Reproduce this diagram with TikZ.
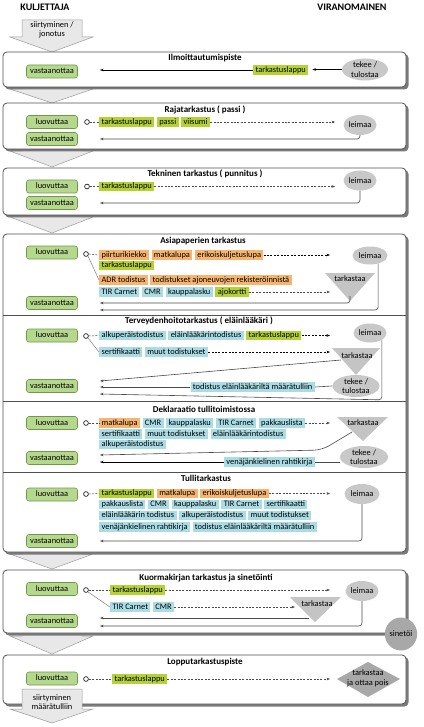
\documentclass[tikz,border=0pt]{standalone}
\usepackage{fontspec}
\setmainfont{Carlito}
\usetikzlibrary{shapes.geometric,arrows.meta,positioning}
\definecolor{hlgreen}{HTML}{B4D236}
\definecolor{hlorange}{HTML}{F6B46E}
\definecolor{hlblue}{HTML}{A9DCE5}
\definecolor{gfill}{HTML}{B6D88E}
\definecolor{gdraw}{HTML}{6E9A48}
\definecolor{ovalc}{HTML}{C8C8C8}
\definecolor{darkov}{HTML}{A8A8A8}
\definecolor{tric}{HTML}{C4C4C4}
\definecolor{panelc}{HTML}{505050}
\definecolor{shadowc}{HTML}{7A7A7A}
\definecolor{chevf}{HTML}{E8E8E8}
\definecolor{chevd}{HTML}{9C9C9C}
\definecolor{lineg}{HTML}{4A4A4A}
\tikzset{
 base/.style={font=\fontsize{8.4}{9.6}\selectfont},
 hl/.style={base, inner xsep=2.4pt, inner ysep=1pt, text height=5.9pt, text depth=1.7pt, anchor=west},
 hg/.style={hl, fill=hlgreen},
 ho/.style={hl, fill=hlorange},
 hb/.style={hl, fill=hlblue},
 gbox/.style={base, draw=gdraw, fill=gfill, rounded corners=2.5pt, minimum width=51pt, minimum height=13pt, inner sep=1pt, line width=0.6pt, text height=5.9pt, text depth=1.7pt},
 oval/.style={base, ellipse, fill=ovalc, inner sep=0pt, align=center},
 ring/.style={circle, draw=black, fill=white, minimum size=4.8pt, inner sep=0pt, line width=0.6pt},
 dsh/.style={draw=lineg, dash pattern=on 2pt off 1.4pt, line width=0.5pt},
 dar/.style={dsh, -{Stealth[length=3.5pt,width=2.6pt]}},
 ret/.style={draw=lineg, line width=0.6pt, -{Stealth[length=3.5pt,width=2.6pt]}, rounded corners=3pt},
 plain/.style={draw=lineg, line width=0.6pt},
 diag/.style={draw=gray, line width=0.5pt},
 ttl/.style={font=\bfseries\fontsize{9}{10}\selectfont},
 hdr/.style={font=\bfseries\fontsize{10}{11}\selectfont},
 panel/.style={draw=panelc, fill=white, line width=0.8pt, rounded corners=4pt},
 pshadow/.style={fill=shadowc, rounded corners=4pt},
 chev/.style={fill=chevf, draw=chevd, line width=0.5pt},
 tri/.style={fill=tric},
 chevtxt/.style={base, align=center},
}
\begin{document}
\begin{tikzpicture}[x=1pt,y=-1pt]
\useasboundingbox (0,0) rectangle (423,727);
\fill[white] (0,0) rectangle (423,727);
\coordinate (tipA) at (335,0);
\coordinate (tipB) at (330,0);

% headers
\node[hdr] (kh) at (45,7) {KULJETTAJA};
\node[hdr] (vh) at (352,7) {VIRANOMAINEN};

% chevrons (behind panels)
\filldraw[chev] (22,20)--(82,20)--(82,37)--(93,37)--(52,52)--(10,37)--(22,37)--cycle;
\node[chevtxt] (ch0) at (52,30) {siirtyminen /\\jonotus};
\filldraw[chev] (22,82)--(82,82)--(82,89)--(93,89)--(52,103)--(10,89)--(22,89)--cycle;
\filldraw[chev] (22,144)--(82,144)--(82,151)--(93,151)--(52,167)--(10,151)--(22,151)--cycle;
\filldraw[chev] (22,210)--(82,210)--(82,217)--(93,217)--(52,233)--(10,217)--(22,217)--cycle;
\filldraw[chev] (22,547)--(82,547)--(82,554)--(93,554)--(52,569)--(10,554)--(22,554)--cycle;
\filldraw[chev] (22,628)--(82,628)--(82,636)--(93,636)--(52,654)--(10,636)--(22,636)--cycle;

% panels
\fill[pshadow] (5,54) rectangle (408.5,89.5);
\filldraw[panel] (3,52) rectangle (406,87);
\fill[pshadow] (5,105) rectangle (408.5,151.5);
\filldraw[panel] (3,103) rectangle (406,149);
\fill[pshadow] (5,170) rectangle (408.5,217.5);
\filldraw[panel] (3,168) rectangle (406,215);
\fill[pshadow] (5,236) rectangle (408.5,554.5);
\filldraw[panel] (3,234) rectangle (406,552);
\draw[draw=panelc, line width=0.8pt] (3,315) -- (406,315);
\draw[draw=panelc, line width=0.8pt] (3,401) -- (406,401);
\draw[draw=panelc, line width=0.8pt] (3,472) -- (406,472);
\fill[pshadow] (5,572) rectangle (408.5,635.5);
\filldraw[panel] (3,570) rectangle (406,633);
\fill[pshadow] (5,657) rectangle (408.5,706.5);
\filldraw[panel] (3,655) rectangle (406,704);

% ---------- Panel 1
\node[ttl] (p1) at (205,58) {Ilmoittautumispiste};
\node[gbox] (v1) at (52,71.5) {vastaanottaa};
\node[hg] (t1) at (253,70) {tarkastuslappu};
\node[oval, minimum width=46pt, minimum height=21pt] (e1) at (365,69.5) {tekee /\\tulostaa};
\coordinate (r1) at (100,70);
\draw[ret, line width=0.8pt, draw=black, shorten >=4pt] (e1.west) -- (e1.west -| t1.east);
\draw[ret, line width=0.8pt, draw=black] (t1.west) -- (r1);

% ---------- Panel 2
\node[ttl] (p2) at (205,110) {Rajatarkastus ( passi )};
\node[gbox] (l2) at (52,122) {luovuttaa};
\node[gbox] (v2) at (52,139) {vastaanottaa};
\node[oval, minimum width=33pt, minimum height=20pt] (e2) at (360,125) {leimaa};
\node[ring] (c2) at (87,122) {};
\node[hg] (a2) at (99,122) {tarkastuslappu};
\node[hg, right=2.2pt of a2] (b2) {passi};
\node[hg, right=2.2pt of b2] (d2) {viisumi};
\draw[dsh] (c2.east) -- (a2.west);
\draw[dar] (d2.east) -- (d2.east -| tipA);
\coordinate (r2) at (100,139);
\draw[ret] (e2.south) |- (r2);

% ---------- Panel 3
\node[ttl] (p3) at (205,174) {Tekninen tarkastus ( punnitus )};
\node[gbox] (l3) at (52,186.5) {luovuttaa};
\node[gbox] (v3) at (52,203) {vastaanottaa};
\node[oval, minimum width=33pt, minimum height=20pt] (e3) at (360,180.5) {leimaa};
\node[ring] (c3) at (87,186.5) {};
\node[hg] (a3) at (99,186.5) {tarkastuslappu};
\draw[dsh] (c3.east) -- (a3.west);
\draw[dar] (a3.east) -- (a3.east -| tipA);
\coordinate (r3) at (100,203);
\draw[ret] (e3.south) |- (r3);

% ---------- Panel 4
\node[ttl] (p4) at (203,241) {Asiapaperien tarkastus};
\node[gbox] (l4) at (52,252.5) {luovuttaa};
\node[gbox] (v4) at (52,303) {vastaanottaa};
\node[ring] (c4) at (86,254) {};
\node[ho] (a4) at (99,255) {piirturikiekko};
\node[ho, right=2.2pt of a4] (b4) {matkalupa};
\node[ho, right=2.2pt of b4] (d4) {erikoiskuljetuslupa};
\node[hg] (f4) at (99,265.5) {tarkastuslappu};
\node[ho] (g4) at (99,280) {ADR todistus};
\node[ho, right=2.2pt of g4] (h4) {todistukset ajoneuvojen rekisteröinnistä};
\node[hb] (i4) at (99,292) {TIR Carnet};
\node[hb, right=2.2pt of i4] (j4) {CMR};
\node[hb, right=2.2pt of j4] (k4) {kauppalasku};
\node[hg, right=2.2pt of k4] (m4) {ajokortti};
\node[oval, minimum width=35pt, minimum height=18pt] (e4) at (370,255.5) {leimaa};
\fill[tri] (325,273)--(375,273)--(350,301)--cycle;
\node[base] (tk4) at (350,279) {tarkastaa};
\draw[dsh] (c4.east) -- (a4.west);
\draw[diag] (c4.south east) -- (g4.west);
\draw[dar, line width=0.6pt, draw=black] (d4.east) -- (d4.east -| tipB);
\draw[dar] (m4.east) -- (m4.east -| tipB);
\coordinate (s4) at (350,296);
\coordinate (r4a) at (100,303);
\coordinate (r4b) at (100,310);
\draw[ret] (s4) |- (r4a);
\draw[ret] (e4.-45) |- (r4b);

% ---------- Panel 5
\node[ttl] (p5) at (199,321) {Terveydenhoitotarkastus ( eläinlääkäri )};
\node[gbox] (l5) at (52,335.5) {luovuttaa};
\node[gbox] (v5) at (52,386) {vastaanottaa};
\node[ring] (c5) at (86,336) {};
\node[hb] (a5) at (99,335.5) {alkuperäistodistus};
\node[hb, right=2.2pt of a5] (b5) {eläinlääkärintodistus};
\node[hg, right=2.2pt of b5] (d5) {tarkastuslappu};
\node[hb] (f5) at (99,352) {sertifikaatti};
\node[hb, right=2.2pt of f5] (g5) {muut todistukset};
\node[oval, minimum width=33pt, minimum height=19pt] (e5) at (370,333) {leimaa};
\fill[tri] (332,348)--(380,348)--(356,375)--cycle;
\node[base] (tk5) at (357,356) {tarkastaa};
\node[oval, minimum width=47pt, minimum height=22pt] (f5e) at (356,386) {tekee /\\tulostaa};
\draw[dsh] (c5.east) -- (a5.west);
\draw[diag] (c5.south east) -- (f5.west);
\draw[dar, line width=0.6pt, draw=black] (d5.east) -- (d5.east -| tipB);
\draw[dar, line width=0.6pt, draw=black] (g5.east) -- (g5.east -| tipB);
\coordinate (s5) at (341,360);
\coordinate (r5a) at (100,381);
\draw[ret] (s5) -- (r5a);
\node[hb, anchor=east] (lab5) at (315,387) {todistus eläinlääkäriltä määrätulliin};
\coordinate (r5b) at (100,387);
\draw[plain] (f5e.west) -- (lab5.east);
\draw[ret] (lab5.west) -- (r5b);
\coordinate (r5c) at (100,394);
\draw[ret] (e5.-30) -- ++(0,60) -- (r5c);

% ---------- Panel 6
\node[ttl] (p6) at (204,409) {Deklaraatio tullitoimistossa};
\node[gbox] (l6) at (52,423) {luovuttaa};
\node[gbox] (v6) at (52,458) {vastaanottaa};
\node[ring] (c6) at (86,423) {};
\node[ho] (a6) at (99,423) {matkalupa};
\node[hb, right=2.2pt of a6] (b6) {CMR};
\node[hb, right=2.2pt of b6] (d6) {kauppalasku};
\node[hb, right=2.2pt of d6] (f6) {TIR Carnet};
\node[hb, right=2.2pt of f6] (g6) {pakkauslista};
\node[hb] (h6) at (99,434) {sertifikaatti};
\node[hb, right=2.2pt of h6] (i6) {muut todistukset};
\node[hb, right=2.2pt of i6] (j6) {eläinlääkärintodistus};
\node[hb] (k6) at (99,444.5) {alkuperäistodistus};
\fill[tri] (337,417)--(388,417)--(363,441)--cycle;
\node[base] (tk6) at (363,423) {tarkastaa};
\node[oval, minimum width=48pt, minimum height=22pt] (e6) at (364,457) {tekee /\\tulostaa};
\draw[dsh] (c6.east) -- (a6.west);
\draw[dar] (g6.east) -- (g6.east -| tipB);
\coordinate (s6) at (352,432);
\coordinate (m6) at (322,450);
\coordinate (r6a) at (100,455);
\draw[ret, rounded corners=8pt] (s6) -- (m6) -- (r6a);
\node[hb, anchor=east] (lab6) at (315,462) {venäjänkielinen rahtikirja};
\coordinate (r6b) at (100,462);
\draw[plain, line width=0.8pt] (e6.west |- lab6.east) -- (lab6.east);
\draw[ret, line width=0.8pt, draw=black] (lab6.west) -- (r6b);

% ---------- Panel 7
\node[ttl] (p7) at (206,478) {Tullitarkastus};
\node[gbox] (l7) at (52,494.5) {luovuttaa};
\node[gbox] (v7) at (52,541) {vastaanottaa};
\node[ring] (c7) at (86,494) {};
\node[hg] (a7) at (99,493.5) {tarkastuslappu};
\node[ho, right=2.2pt of a7] (b7) {matkalupa};
\node[ho, right=2.2pt of b7] (d7) {erikoiskuljetuslupa};
\node[hb] (f7) at (99,504.5) {pakkauslista};
\node[hb, right=2.2pt of f7] (g7) {CMR};
\node[hb, right=2.2pt of g7] (h7) {kauppalasku};
\node[hb, right=2.2pt of h7] (i7) {TIR Carnet};
\node[hb, right=2.2pt of i7] (j7) {sertifikaatti};
\node[hb] (k7) at (99,515.5) {eläinlääkärin todistus};
\node[hb, right=2.2pt of k7] (m7) {alkuperäistodistus};
\node[hb, right=2.2pt of m7] (n7) {muut todistukset};
\node[hb] (o7) at (99,527) {venäjänkielinen rahtikirja};
\node[hb, right=2.2pt of o7] (q7) {todistus eläinlääkäriltä määrätulliin};
\node[oval, minimum width=35pt, minimum height=20pt] (e7) at (362,494) {leimaa};
\draw[dsh] (c7.east) -- (a7.west);
\draw[dar] (d7.east) -- (d7.east -| tipB);
\coordinate (r7) at (100,541);
\draw[ret] (e7.south) |- (r7);

% ---------- Panel 8
\node[ttl] (p8) at (206,578) {Kuormakirjan tarkastus ja sinetöinti};
\node[gbox] (l8) at (52,589) {luovuttaa};
\node[gbox] (v8) at (52,621) {vastaanottaa};
\node[ring] (c8) at (86,590) {};
\node[hg] (a8) at (110,590) {tarkastuslappu};
\node[hb] (b8) at (110,607) {TIR Carnet};
\node[hb, right=2.2pt of b8] (d8) {CMR};
\fill[tri] (290,597)--(341,597)--(315,622)--cycle;
\node[base] (tk8) at (317,604) {tarkastaa};
\node[oval, minimum width=33pt, minimum height=20pt] (e8) at (362,591) {leimaa};
\draw[dsh] (c8.east) -- (a8.west);
\draw[dar] (a8.east) -- (a8.east -| tipB);
\draw[diag] (c8.south east) -- (b8.west);
\coordinate (tipC) at (295,0);
\draw[dar] (d8.east) -- (d8.east -| tipC);
\coordinate (s8) at (309,618);
\coordinate (r8a) at (100,618);
\draw[ret] (s8) -- (r8a);
\coordinate (r8b) at (100,626);
\draw[ret] (e8.south) |- (r8b);
\node[oval, fill=darkov, minimum width=32pt, minimum height=33pt] (sn) at (401,634) {sinetöi};

% ---------- Panel 9
\node[ttl] (p9) at (205,662) {Lopputarkastuspiste};
\node[gbox] (l9) at (52,678.5) {luovuttaa};
\node[ring] (c9) at (86,679) {};
\node[hg] (a9) at (112,679) {tarkastuslappu};
\fill[darkov] (337,679)--(368,662)--(400,679)--(368,697)--cycle;
\node[base, align=center] (dm) at (368,678.5) {tarkastaa\\ja ottaa pois};
\draw[dsh] (c9.east) -- (a9.west);
\draw[dar] (a9.east) -- (a9.east -| tipB);

% final chevron (over panel)
\filldraw[chev] (22,689)--(82,689)--(82,709)--(93,709)--(52,723)--(10,709)--(22,709)--cycle;
\node[chevtxt] (ch9) at (52,702) {siirtyminen\\määrätulliin};
\end{tikzpicture}
\end{document}
